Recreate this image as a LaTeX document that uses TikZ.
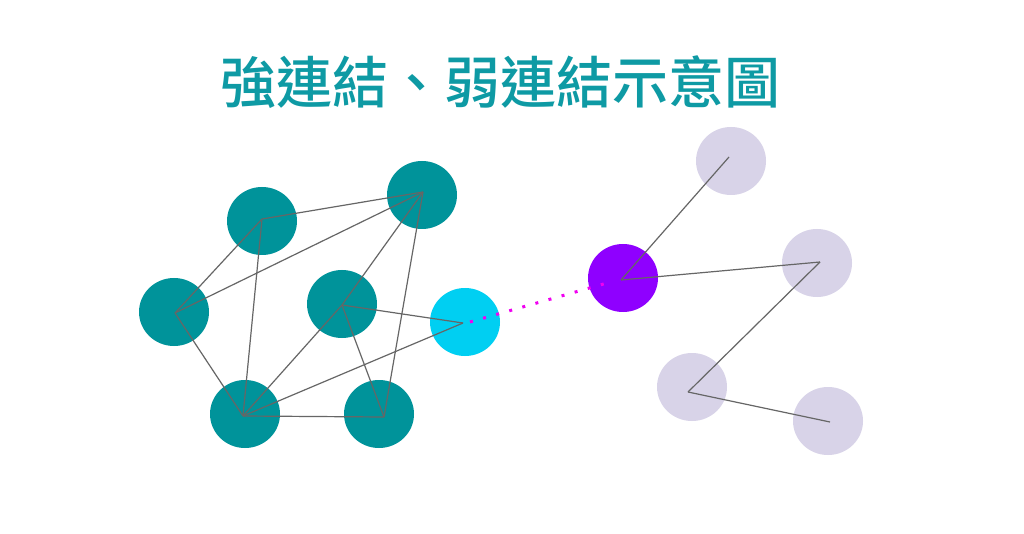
\documentclass[tikz,border=0pt]{standalone}
\usepackage{fontspec}
\newfontfamily\cjk{Noto Sans CJK TC Medium}
\usetikzlibrary{shapes.geometric}
\definecolor{tealc}{HTML}{00939A}
\definecolor{titlec}{HTML}{0E9AA4}
\definecolor{cyanc}{HTML}{00CFF2}
\definecolor{purplec}{HTML}{8F00FF}
\definecolor{lavc}{HTML}{D8D3E8}
\definecolor{linec}{HTML}{666666}
\definecolor{dotc}{HTML}{F000F0}
\tikzset{
  dot/.style={ellipse, draw=none, minimum width=70pt, minimum height=68pt, inner sep=0pt},
  strong/.style={dot, fill=tealc},
  bridge/.style={dot, fill=cyanc},
  hubnode/.style={dot, fill=purplec},
  weak/.style={dot, fill=lavc},
  link/.style={draw=linec, line width=1.2pt},
  weaklink/.style={draw=dotc, line width=3pt, dash pattern=on 3pt off 10.6pt}
}
\begin{document}
\begin{tikzpicture}[x=1pt,y=-1pt]
\useasboundingbox[fill=white] (0,0) rectangle (1024,534);
\node[text=titlec, font=\cjk\fontsize{56}{60}\selectfont] (title) at (500,82) {強連結、弱連結示意圖};
% circles
\node[strong] (A) at (262,221) {};
\node[strong] (B) at (422,195) {};
\node[strong] (C) at (174,312) {};
\node[strong] (D) at (342,304) {};
\node[strong] (E) at (245,414) {};
\node[strong] (F) at (379,414) {};
\node[bridge] (G) at (465,322) {};
\node[hubnode] (H) at (623,278) {};
\node[weak] (I) at (731,161) {};
\node[weak] (J) at (817,263) {};
\node[weak] (K) at (692,387) {};
\node[weak] (L) at (828,421) {};
% hub points
\coordinate (a) at (262,219);
\coordinate (b) at (423,192);
\coordinate (c) at (175,313);
\coordinate (d) at (342,305);
\coordinate (e) at (243,416);
\coordinate (f) at (384,417);
\coordinate (g) at (463,323);
\coordinate (g2) at (470,322);
\coordinate (h) at (621,280);
\coordinate (h2) at (607,283);
\coordinate (i) at (729,157);
\coordinate (j) at (820,262);
\coordinate (k) at (688,392);
\coordinate (l) at (830,422);
% strong links
\draw[link] (a) -- (b);
\draw[link] (a) -- (c);
\draw[link] (a) -- (e);
\draw[link] (c) -- (b);
\draw[link] (c) -- (e);
\draw[link] (b) -- (d);
\draw[link] (b) -- (f);
\draw[link] (d) -- (e);
\draw[link] (d) -- (f);
\draw[link] (d) -- (g);
\draw[link] (e) -- (f);
\draw[link] (e) -- (g);
% weak side
\draw[link] (h) -- (i);
\draw[link] (h) -- (j);
\draw[link] (j) -- (k);
\draw[link] (k) -- (l);
% bridge
\draw[weaklink] (g2) -- (h2);
\end{tikzpicture}
\end{document}
